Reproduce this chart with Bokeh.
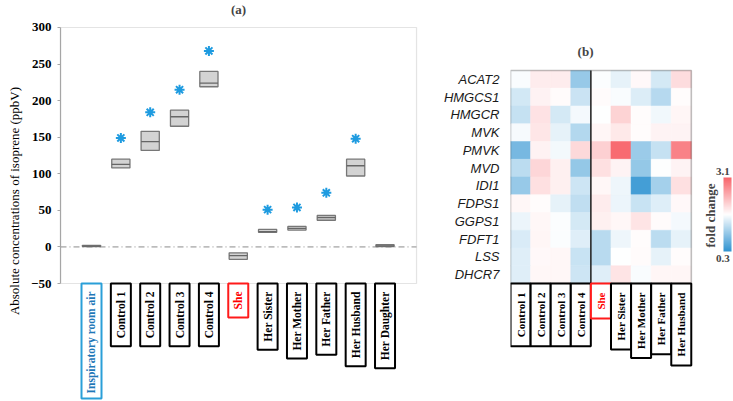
import math
from bokeh.plotting import figure
from bokeh.layouts import row
from bokeh.models import (ColumnDataSource, Label, FixedTicker, BoxAnnotation,
                          LogColorMapper, ColorBar, Range1d)
from bokeh.transform import dodge
from bokeh.embed import file_html
from bokeh.resources import INLINE

# ---------------- Panel (a) data ----------------
subjects_a = ["Inspiratory  room air", "Control 1", "Control 2", "Control 3",
              "Control 4", "She", "Her Sister", "Her Mother", "Her Father",
              "Her Husband", "Her Daughter"]
box_q1 = [0.5, 108, 132, 165, 219, -17, 20, 23, 36.5, 97, 0.5]
box_median = [1, 113, 144, 178, 224, -12, 21, 25.5, 40, 111, 1.5]
box_q3 = [2, 120, 158, 187, 240, -8, 24, 28, 43, 120, 3]
star_subjects = ["Control 1", "Control 2", "Control 3", "Control 4",
                 "Her Sister", "Her Mother", "Her Father", "Her Husband"]
star_values = [149, 184, 215, 268, 51, 54, 74, 148]
yticks_a = [-50, 0, 50, 100, 150, 200, 250, 300]
y_min_a, y_max_a = -50, 300

# ---------------- Panel (b) data ----------------
samples_b = ["Control 1", "Control 2", "Control 3", "Control 4", "She",
             "Her Sister", "Her Mother", "Her Father", "Her Husband"]
genes = ["ACAT2", "HMGCS1", "HMGCR", "MVK", "PMVK", "MVD", "IDI1",
         "FDPS1", "GGPS1", "FDFT1", "LSS", "DHCR7"]
ACAT2 = [0.93, 1.11, 1.11, 0.54, 0.94, 0.84, 1.01, 0.76, 1.25]
HMGCS1 = [0.75, 1.06, 1.00, 0.72, 1.00, 0.93, 0.79, 0.64, 0.99]
HMGCR = [0.70, 1.19, 0.76, 0.91, 0.96, 1.34, 0.99, 0.89, 1.03]
MVK = [0.92, 1.16, 0.84, 0.63, 1.03, 1.14, 0.99, 1.05, 1.05]
PMVK = [0.45, 1.06, 0.90, 1.28, 1.37, 2.92, 0.55, 0.70, 2.45]
MVD = [0.66, 1.31, 1.08, 0.53, 1.22, 1.05, 0.53, 0.95, 1.05]
IDI1 = [0.54, 1.22, 1.08, 0.73, 1.02, 0.88, 0.34, 0.58, 1.22]
FDPS1 = [1.02, 0.99, 0.84, 0.68, 1.11, 0.87, 0.71, 0.80, 1.01]
GGPS1 = [0.87, 1.02, 0.94, 0.76, 1.08, 1.02, 1.18, 1.00, 0.91]
FDFT1 = [0.78, 1.03, 0.94, 0.81, 0.65, 0.88, 0.99, 0.66, 0.84]
LSS = [0.81, 1.01, 1.02, 0.71, 0.65, 0.96, 1.00, 0.84, 0.99]
DHCR7 = [0.81, 1.02, 1.02, 0.73, 0.81, 1.18, 0.93, 1.03, 1.03]
gene_rows = [ACAT2, HMGCS1, HMGCR, MVK, PMVK, MVD, IDI1, FDPS1, GGPS1,
             FDFT1, LSS, DHCR7]
fold_low, fold_high = 0.3, 3.1

SERIF = "Liberation Serif"
SANS = "Liberation Sans"


def label_colors(name):
    if name.startswith("Inspiratory"):
        return "#1f78b8", "#2a9fd8"
    if name == "She":
        return "#ff0000", "#ff1a1a"
    return "#000000", "#000000"


# ================= Panel (a) =================
xa0, xa1 = -1.056, 11.074          # plotted category area
pa = figure(width=440, height=401, x_range=Range1d(xa0, 11.89),
            y_range=Range1d(-211.3, 336.9), output_backend="svg",
            toolbar_location=None, min_border_left=60, min_border_right=0,
            min_border_top=0, min_border_bottom=0)
pa.xaxis.visible = False
pa.grid.visible = False
pa.outline_line_color = None
ya = pa.yaxis[0]
ya.bounds = (y_min_a, y_max_a)
ya.ticker = FixedTicker(ticks=yticks_a)
ya.axis_line_color = "#a6a6a6"
ya.axis_line_width = 1.2
ya.major_tick_line_color = "#a6a6a6"
ya.major_tick_out = 3
ya.major_tick_in = 0
ya.minor_tick_line_color = None
ya.major_label_text_font = SERIF
ya.major_label_text_font_style = "bold"
ya.major_label_text_font_size = "13px"
ya.major_label_text_color = "#000000"
ya.major_label_standoff = 6
ya.axis_label = "Absolute concentrations of isoprene (ppbV)"
ya.axis_label_text_font = SERIF
ya.axis_label_text_font_style = "normal"
ya.axis_label_text_font_size = "13px"
ya.axis_label_text_color = "#000000"
ya.axis_label_standoff = 6

pa.add_layout(BoxAnnotation(left=xa0, right=xa1, bottom=y_min_a,
                            top=y_max_a, fill_alpha=0,
                            line_color="#a6a6a6", line_width=1.2))
pa.segment(x0=[xa0], y0=[0], x1=[xa1], y1=[0], line_color="#8c8c8c",
           line_dash="6 3 1 3", line_width=1)

src_a = ColumnDataSource(dict(x=list(range(len(subjects_a))), q1=box_q1,
                              med=box_median, q3=box_q3))
pa.vbar(x="x", width=0.62, bottom="q1", top="q3", source=src_a,
        fill_color="#d3d3d3", line_color="#777777", line_width=1.3)
pa.segment(x0=dodge("x", -0.31, range=pa.x_range), y0="med",
           x1=dodge("x", 0.31, range=pa.x_range), y1="med", source=src_a,
           line_color="#666666", line_width=1.3)

star_x = [subjects_a.index(s) for s in star_subjects]
pa.scatter(x=star_x, y=star_values, marker="asterisk", size=10,
           line_color="#1e9be0", line_width=2.0)

pa.add_layout(Label(x=5.01, y=324.6, text="(a)", text_align="center",
                    text_baseline="middle", text_font=SERIF,
                    text_font_style="bold", text_font_size="13px"))

for i, name in enumerate(subjects_a):
    tc, bc = label_colors(name)
    pad = 5 if name.startswith("Inspiratory") else 8
    pa.add_layout(Label(x=i, y=y_min_a, x_units="data", y_units="data",
                        text=name, angle=math.pi / 2, anchor="center_right",
                        text_align="center", text_baseline="middle",
                        text_font=SERIF, text_font_style="bold",
                        text_font_size="11.5px", text_color=tc,
                        border_line_color=bc, border_line_width=2,
                        background_fill_color="white",
                        padding=dict(left=pad, right=pad, top=4, bottom=4)))

# ================= Panel (b) =================
blue = (47, 147, 209)
white = (255, 255, 255)
red = (248, 100, 106)
palette = []
for k in range(256):
    t = k / 255
    if t < 0.5:
        a, b, f = blue, white, t / 0.5
    else:
        a, b, f = white, red, (t - 0.5) / 0.5
    c = tuple(int(round(a[j] + (b[j] - a[j]) * f)) for j in range(3))
    palette.append("#%02x%02x%02x" % c)
mapper = LogColorMapper(palette=palette, low=fold_low, high=fold_high)

xs, ys, vs = [], [], []
for gi, vals in enumerate(gene_rows):
    for si, v in enumerate(vals):
        xs.append(si)
        ys.append(gi)
        vs.append(v)
src_b = ColumnDataSource(dict(x=xs, y=ys, v=vs))

nb_x, nb_y = len(samples_b), len(genes)
pb = figure(width=293, height=401, x_range=Range1d(-0.5, 10.6),
            y_range=Range1d(18.148, -4.444), output_backend="svg",
            toolbar_location=None, min_border_left=68, min_border_right=0,
            min_border_top=0, min_border_bottom=0)
pb.xaxis.visible = False
pb.grid.visible = False
pb.outline_line_color = None
pb.rect(x="x", y="y", width=1, height=1, source=src_b,
        fill_color={"field": "v", "transform": mapper},
        line_color={"field": "v", "transform": mapper}, line_width=0.5)
pb.add_layout(BoxAnnotation(left=-0.5, right=nb_x - 0.5, top=-0.5,
                            bottom=nb_y - 0.5, fill_alpha=0,
                            line_color="#2a2a2a", line_width=1.6))
pb.segment(x0=[3.5], y0=[-0.5], x1=[3.5], y1=[nb_y - 0.5],
           line_color="#2a2a2a", line_width=1.6)
yb = pb.yaxis[0]
yb.ticker = FixedTicker(ticks=list(range(nb_y)))
yb.major_label_overrides = {i: g for i, g in enumerate(genes)}
yb.axis_line_color = None
yb.major_tick_line_color = None
yb.minor_tick_line_color = None
yb.major_label_standoff = 5
yb.major_label_text_font = SANS
yb.major_label_text_font_style = "italic"
yb.major_label_text_font_size = "13px"
yb.major_label_text_color = "#1a1a1a"

pb.add_layout(Label(x=3.235, y=-1.57, text="(b)", text_align="center",
                    text_baseline="middle", text_font=SERIF,
                    text_font_style="bold", text_font_size="13px"))

for i, name in enumerate(samples_b):
    tc, bc = label_colors(name)
    pb.add_layout(Label(x=i, y=nb_y - 0.5, x_units="data", y_units="data",
                        text=name, angle=math.pi / 2, anchor="center_right",
                        text_align="center", text_baseline="middle",
                        text_font=SERIF, text_font_style="bold",
                        text_font_size="11px", text_color=tc,
                        border_line_color=bc, border_line_width=2,
                        background_fill_color="white",
                        padding=dict(left=9, right=9, top=4, bottom=4)))

cbar = ColorBar(color_mapper=mapper, width=8, height=74, location=(213, 150),
                padding=0, margin=0, title=None,
                ticker=FixedTicker(ticks=[]), major_tick_line_color=None,
                minor_tick_line_color=None, bar_line_color=None,
                background_fill_alpha=0, border_line_color=None,
                label_standoff=0)
pb.add_layout(cbar)
for txt, yy in (("3.1", 5.19), ("0.3", 10.09)):
    pb.add_layout(Label(x=10.067, y=yy, text=txt, text_align="center",
                        text_baseline="middle", text_font=SERIF,
                        text_font_style="bold", text_font_size="11px"))
pb.add_layout(Label(x=9.45, y=7.67, text="fold change", angle=math.pi / 2,
                    text_align="center", text_baseline="middle",
                    text_font=SERIF, text_font_style="bold",
                    text_font_size="13px"))

layout = row(pa, pb)
open("out.html", "w").write(file_html(layout, INLINE))
